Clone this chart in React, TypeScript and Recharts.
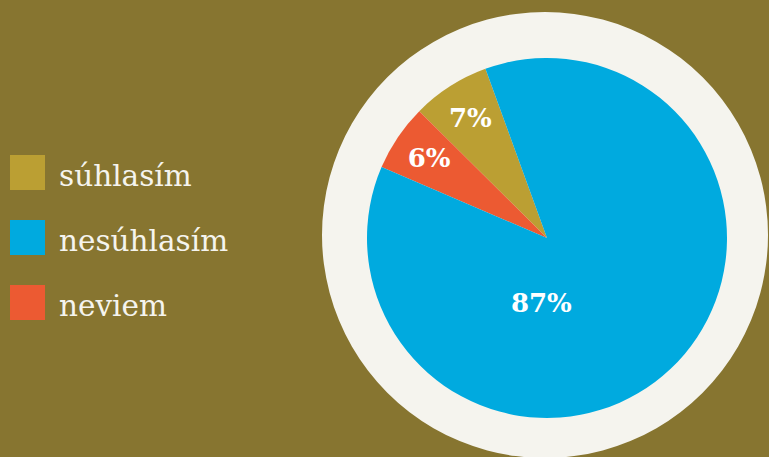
import React from "react";
import { PieChart, Pie, Cell } from "recharts";

const categories = ["súhlasím", "nesúhlasím", "neviem"];
const values = [7, 87, 6];
const colors = ["#bb9f33", "#00aadf", "#ec5a32"];
// drawing order around the pie (counter-clockwise from the gold slice)
const sliceOrder = [0, 2, 1];

const BG = "#877530";
const CREAM = "#f5f4ee";

const pieData = sliceOrder.map((i) => ({ name: categories[i], value: values[i], color: colors[i] }));
const legendData = categories.map((c, i) => ({ name: c, color: colors[i] }));
const backdrop = [{ name: "bg", value: 1 }];

const RAD = Math.PI / 180;

const renderLabel = (props: any) => {
  const { cx, cy, midAngle, outerRadius, value } = props;
  let angle = midAngle;
  let r = outerRadius * 0.79;
  if (value > 50) {
    angle = 265;
    r = outerRadius * 0.36;
  }
  const x = cx + r * Math.cos(-angle * RAD);
  const y = cy + r * Math.sin(-angle * RAD);
  return (
    <text
      x={x}
      y={y}
      fill="#ffffff"
      textAnchor="middle"
      dominantBaseline="central"
      style={{ fontFamily: "DejaVu Serif", fontWeight: 700, fontSize: 26 }}
    >
      {`${value}%`}
    </text>
  );
};

const LegendBlock = () => (
  <div style={{ position: "absolute", left: 10, top: 155, display: "flex", flexDirection: "column" }}>
    {legendData.map((d, i) => (
      <div key={d.name} style={{ display: "flex", alignItems: "center", height: 35, marginBottom: i < legendData.length - 1 ? 30 : 0 }}>
        <div style={{ width: 35, height: 35, background: d.color }} />
        <span
          style={{
            marginLeft: 14,
            color: "#f5f4ee",
            fontFamily: "DejaVu Serif",
            fontWeight: 300,
            fontSize: 29.5,
            lineHeight: "35px",
            position: "relative",
            top: 4,
            whiteSpace: "nowrap",
          }}
        >
          {d.name}
        </span>
      </div>
    ))}
  </div>
);

export default function App() {
  return (
    <div style={{ position: "fixed", left: 0, top: 0, width: 769, height: 457, background: BG, overflow: "hidden" }}>
      <PieChart width={769} height={457} margin={{ top: 0, right: 0, bottom: 0, left: 0 }}>
        <Pie
          data={backdrop}
          dataKey="value"
          cx={545}
          cy={235}
          outerRadius={223}
          innerRadius={0}
          stroke="none"
          fill={CREAM}
          isAnimationActive={false}
          legendType="none"
        />
        <Pie
          data={pieData}
          dataKey="value"
          cx={547}
          cy={238}
          outerRadius={180}
          innerRadius={0}
          startAngle={110}
          endAngle={470}
          stroke="none"
          label={renderLabel}
          labelLine={false}
          isAnimationActive={false}
        >
          {pieData.map((d) => (
            <Cell key={d.name} fill={d.color} />
          ))}
        </Pie>
      </PieChart>
      <LegendBlock />
    </div>
  );
}
